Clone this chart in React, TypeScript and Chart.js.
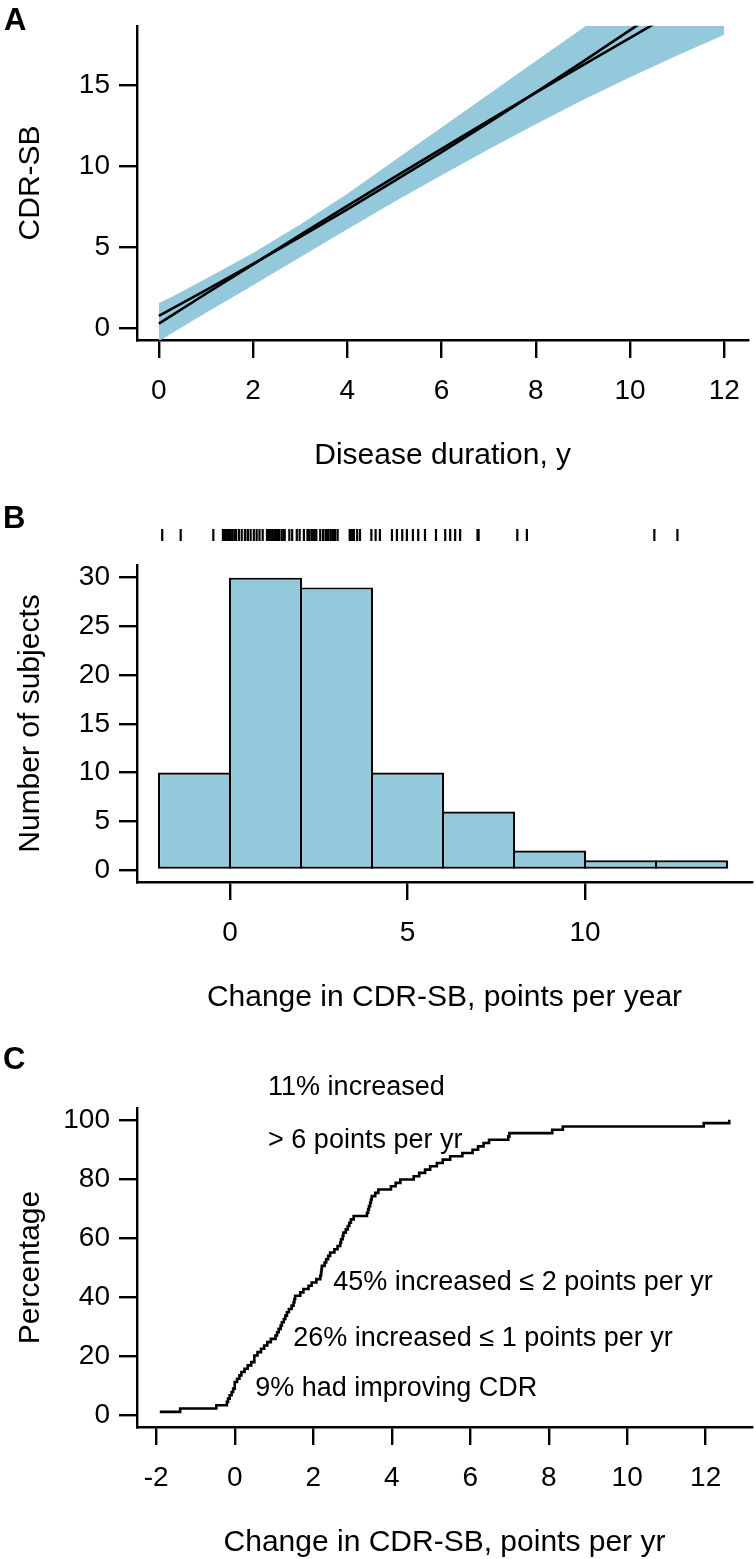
import React, { useEffect, useRef } from 'react';
import { Chart, registerables } from 'chart.js';

Chart.register(...registerables);

const FONT = '"Liberation Sans", Arial, Helvetica, sans-serif';
const BAND = '#94C9DC';

// ---------- Panel A: CDR-SB vs disease duration ----------
const durationX = [0, 1, 2, 3, 4, 5, 6, 7, 8, 9, 10, 11, 12];
const fitCurved = [0.75, 2.34, 3.97, 5.63, 7.34, 9.09, 10.87, 12.7, 14.56, 16.47, 18.41, 20.39, 22.42];
const fitLinear = [0.27, 2.12, 3.94, 5.76, 7.55, 9.33, 11.08, 12.82, 14.55, 16.25, 17.94, 19.61, 21.26];
const bandX = [0, 0.25, 1, 2, 3, 4, 5, 6, 7, 8, 9, 10, 11, 12];
const bandUpper = [1.54, 1.88, 3.05, 4.63, 6.4, 8.3, 10.35, 12.4, 14.45, 16.5, 18.55, 20.6, 22.65, 24.7];
const bandLower = [-0.81, -0.37, 0.94, 2.65, 4.38, 6.1, 7.8, 9.45, 11.05, 12.6, 14.1, 15.5, 16.85, 18.13];
const durationTicks = [0, 2, 4, 6, 8, 10, 12];
const cdrTicks = [0, 5, 10, 15];

// ---------- Panel B: histogram of annual change ----------
const binEdges = [-2, 0, 2, 4, 6, 8, 10, 12, 14];
const binCounts = [10, 30, 29, 10, 6, 2, 1, 1];
const histXTicks = [0, 5, 10];
const countTicks = [0, 5, 10, 15, 20, 25, 30];

// Individual annual changes (rug in B, cumulative curve in C)
const changeValues = [
  -1.91, -1.39, -0.47, -0.2, -0.17, -0.13, -0.08, -0.04, 0, 0,
  0.06, 0.12, 0.17, 0.25, 0.33, 0.42, 0.5, 0.5, 0.58, 0.67, 0.75, 0.83, 0.92,
  1.04, 1.08, 1.12, 1.17, 1.2, 1.25, 1.29, 1.33, 1.38, 1.45, 1.5, 1.52, 1.54, 1.67, 1.75, 1.88, 1.96,
  2.08, 2.18, 2.2, 2.21, 2.22, 2.29, 2.33, 2.38, 2.43, 2.54, 2.62, 2.69, 2.71, 2.75, 2.77,
  2.83, 2.88, 2.92, 2.96, 3.03, 3.37, 3.4, 3.42, 3.45, 3.47, 3.49, 3.58, 3.66, 3.98,
  4.1, 4.22, 4.56, 4.7, 4.85, 4.98, 5.15, 5.3, 5.49, 5.8,
  6.06, 6.2, 6.34, 6.48, 6.97, 7.0,
  8.09, 8.36, 11.95, 12.6,
];

// ---------- Panel C: cumulative percentage ----------
const ecdfXTicks = [-2, 0, 2, 4, 6, 8, 10, 12];
const pctTicks = [0, 20, 40, 60, 80, 100];
const annotationTexts = [
  '11% increased',
  '> 6 points per yr',
  '45% increased \u2264 2 points per yr',
  '26% increased \u2264 1 points per yr',
  '9% had improving CDR',
];
const annotationX = [0.85, 0.85, 2.51, 1.49, 0.52];
const annotationY = [111, 93, 45, 26, 9];

function axis(opts: {
  min: number; max: number; ticks: number[]; title: string; horizontal: boolean;
  size: number; titlePad: number;
}) {
  const { min, max, ticks, title, horizontal, size, titlePad } = opts;
  return {
    type: 'linear',
    min,
    max,
    offset: false,
    afterBuildTicks: (s: any) => {
      s.ticks = ticks.map((v) => ({ value: v }));
    },
    afterFit: (s: any) => {
      if (horizontal) s.height = size;
      else s.width = size;
    },
    border: { display: true, color: '#000', width: 2.4 },
    grid: {
      display: true,
      offset: false,
      drawOnChartArea: false,
      drawTicks: true,
      tickLength: 18,
      tickWidth: 2.4,
      tickColor: '#000',
      color: '#000',
      lineWidth: 2.4,
    },
    ticks: {
      color: '#000',
      font: { family: FONT, size: 28 },
      padding: horizontal ? 16 : 9,
      maxRotation: 0,
      autoSkip: false,
      callback: (v: any) => String(v),
    },
    title: {
      display: true,
      text: title,
      color: '#000',
      font: { family: FONT, size: 30, lineHeight: 1 },
      padding: horizontal ? { top: 0, bottom: titlePad } : { top: titlePad, bottom: 0 },
    },
  };
}

const baseOptions = (padTop: number) => ({
  responsive: false,
  animation: false,
  events: [],
  layout: { padding: { top: padTop, right: 4, left: 0, bottom: 0 } },
  plugins: { legend: { display: false }, tooltip: { enabled: false } },
  elements: { point: { radius: 0 } },
});

function configA() {
  const pts = (xs: number[], ys: number[]) => xs.map((x, i) => ({ x, y: ys[i] }));
  return {
    type: 'line',
    data: {
      datasets: [
        { data: pts(durationX, fitCurved), borderColor: '#000', borderWidth: 2.6, fill: false, clip: 0 },
        { data: pts(durationX, fitLinear), borderColor: '#000', borderWidth: 2.6, fill: false, clip: 0 },
        { data: pts(bandX, bandUpper), borderWidth: 0, borderColor: 'rgba(0,0,0,0)', fill: false, clip: 0 },
        { data: pts(bandX, bandLower), borderWidth: 0, borderColor: 'rgba(0,0,0,0)', backgroundColor: BAND, fill: 2, clip: 0 },
      ],
    },
    options: {
      ...baseOptions(24),
      scales: {
        x: axis({ min: -0.464, max: 12.51, ticks: durationTicks, title: 'Disease duration, y', horizontal: true, size: 140, titlePad: 9 }),
        y: axis({ min: -0.74, max: 18.68, ticks: cdrTicks, title: 'CDR-SB', horizontal: false, size: 137, titlePad: 16 }),
      },
    },
  };
}

const rugPlugin = {
  id: 'rug',
  afterDraw(chart: any) {
    const xs = chart.scales.x;
    const top = chart.chartArea.top;
    const ctx = chart.ctx;
    ctx.save();
    ctx.strokeStyle = '#000';
    ctx.lineWidth = 2.2;
    changeValues.forEach((v) => {
      const px = xs.getPixelForValue(v);
      ctx.beginPath();
      ctx.moveTo(px, top - 36);
      ctx.lineTo(px, top - 24);
      ctx.stroke();
    });
    ctx.restore();
  },
};

function configB() {
  const bars = binCounts.map((c, i) => ({ x: (binEdges[i] + binEdges[i + 1]) / 2, y: c }));
  return {
    type: 'bar',
    data: {
      datasets: [
        {
          data: bars,
          backgroundColor: BAND,
          borderColor: '#000',
          borderWidth: 2.2,
          borderSkipped: false,
          barPercentage: 1.03,
          categoryPercentage: 1,
        },
      ],
    },
    options: {
      ...baseOptions(85),
      scales: {
        x: axis({ min: -2.62, max: 14.7, ticks: histXTicks, title: 'Change in CDR-SB, points per year', horizontal: true, size: 140, titlePad: 9 }),
        y: axis({ min: -1.23, max: 31.3, ticks: countTicks, title: 'Number of subjects', horizontal: false, size: 137, titlePad: 16 }),
      },
    },
    plugins: [rugPlugin],
  };
}

const annotationPlugin = {
  id: 'notes',
  afterDraw(chart: any) {
    const xs = chart.scales.x;
    const ys = chart.scales.y;
    const ctx = chart.ctx;
    ctx.save();
    ctx.fillStyle = '#000';
    ctx.font = `27px ${FONT}`;
    ctx.textAlign = 'left';
    ctx.textBaseline = 'middle';
    annotationTexts.forEach((t, i) => {
      ctx.fillText(t, xs.getPixelForValue(annotationX[i]), ys.getPixelForValue(annotationY[i]));
    });
    ctx.restore();
  },
};

function configC() {
  const sorted = [...changeValues].sort((a, b) => a - b);
  const n = sorted.length;
  const ecdf = sorted.map((v, i) => ({ x: v, y: ((i + 1) / n) * 100 }));
  return {
    type: 'line',
    data: {
      datasets: [
        { data: ecdf, borderColor: '#000', borderWidth: 2.6, stepped: 'before', fill: false, clip: 0 },
      ],
    },
    options: {
      ...baseOptions(86),
      scales: {
        x: axis({ min: -2.49, max: 13.18, ticks: ecdfXTicks, title: 'Change in CDR-SB, points per yr', horizontal: true, size: 132, titlePad: 1 }),
        y: axis({ min: -4, max: 104, ticks: pctTicks, title: 'Percentage', horizontal: false, size: 137, titlePad: 16 }),
      },
    },
    plugins: [annotationPlugin],
  };
}

function ChartPanel({ top, height, make }: { top: number; height: number; make: () => any }) {
  const ref = useRef<HTMLCanvasElement | null>(null);
  useEffect(() => {
    const chart = new Chart(ref.current as HTMLCanvasElement, make());
    return () => chart.destroy();
  }, []);
  return (
    <canvas
      ref={ref}
      width={756}
      height={height}
      style={{ position: 'absolute', left: 0, top, width: 756, height, display: 'block' }}
    />
  );
}

function PanelLetter({ text, left, top }: { text: string; left: number; top: number }) {
  return (
    <div
      style={{
        position: 'absolute',
        left,
        top,
        fontFamily: FONT,
        fontWeight: 'bold',
        fontSize: 31,
        lineHeight: '31px',
        color: '#000',
      }}
    >
      {text}
    </div>
  );
}

export default function App() {
  return (
    <div style={{ position: 'absolute', left: 0, top: 0, width: 756, height: 1559, background: '#fff', overflow: 'hidden' }}>
      <ChartPanel top={0} height={480} make={configA} />
      <ChartPanel top={480} height={542} make={configB} />
      <ChartPanel top={1022} height={537} make={configC} />
      <PanelLetter text="A" left={4} top={4} />
      <PanelLetter text="B" left={3} top={502} />
      <PanelLetter text="C" left={3} top={1043} />
    </div>
  );
}
